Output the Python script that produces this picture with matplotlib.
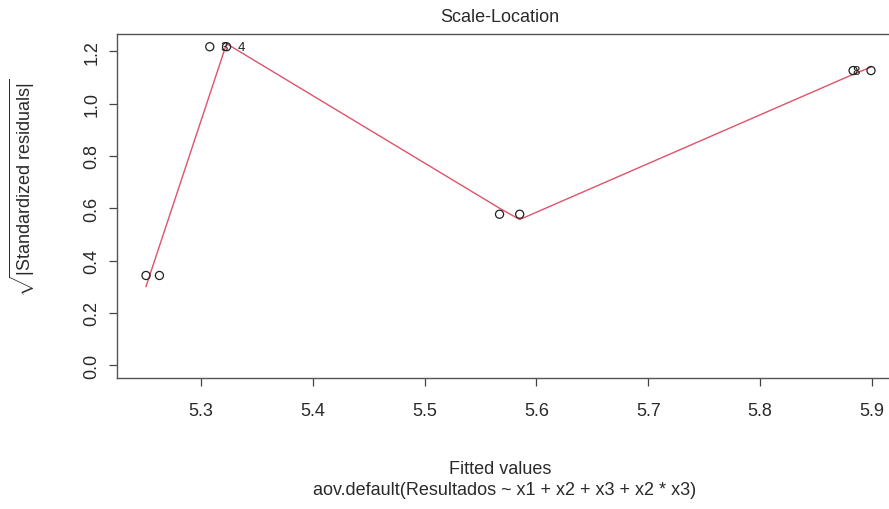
import numpy as np
import matplotlib
matplotlib.use("Agg")
import matplotlib.pyplot as plt

# Fitted values and sqrt(|standardized residuals|) of the aov model
fitted = [5.251, 5.263, 5.308, 5.323, 5.567, 5.585, 5.883, 5.899]
sqrt_std_res = [0.343, 0.343, 1.217, 1.217, 0.577, 0.577, 1.126, 1.126]
obs_ids = ["1", "2", "3", "4", "5", "6", "7", "8"]
labelled = ["3", "4", "8"]

x_ticks = [5.3, 5.4, 5.5, 5.6, 5.7, 5.8, 5.9]
y_ticks = [0.0, 0.2, 0.4, 0.6, 0.8, 1.0, 1.2]


def lowess(x, y, f=2 / 3, iters=3):
    """Port of the classic Cleveland lowess (as used by panel.smooth)."""
    x = np.asarray(x, float)
    y = np.asarray(y, float)
    n = len(x)
    ns = max(min(int(round(f * n)), n), 2)
    rw = np.ones(n)
    ys = np.zeros(n)
    for it in range(iters + 1):
        for i in range(n):
            d = np.abs(x - x[i])
            h = np.sort(d)[ns - 1]
            w = np.zeros(n)
            if h > 0:
                r = d / h
                inside = r <= 0.999
                w[inside] = (1 - r[inside] ** 3) ** 3
                w[r <= 0.001] = 1.0
            else:
                w[d == 0] = 1.0
            w *= rw
            if w.sum() <= 0:
                ys[i] = y[i]
                continue
            w = w / w.sum()
            xm = np.sum(w * x)
            c = np.sum(w * (x - xm) ** 2)
            if np.sqrt(c) > 0.001 * (x.max() - x.min()):
                b = w * (1 + (x[i] - xm) * (x - xm) / c)
            else:
                b = w
            ys[i] = np.sum(b * y)
        if it == iters:
            break
        res = np.abs(y - ys)
        cmad = 6 * np.median(res)
        if cmad < 1e-7 * np.mean(np.abs(y)):
            break
        u = res / cmad
        rw = np.where(u < 0.001, 1.0, np.where(u > 0.999, 0.0, (1 - u ** 2) ** 2))
    return ys


plt.rcParams["font.family"] = ["Liberation Sans", "DejaVu Sans"]
plt.rcParams["mathtext.fontset"] = "custom"
plt.rcParams["mathtext.rm"] = "Liberation Sans"
plt.rcParams["mathtext.it"] = "Liberation Sans"

TEXT = "#2a2a2a"
FS = 13

fig = plt.figure(figsize=(8.89, 5.10), dpi=100)
ax = fig.add_axes([117 / 889, 1 - 379 / 510, (900 - 117) / 889, (379 - 35) / 510])

ax.scatter(fitted, sqrt_std_res, s=34, facecolors="none", edgecolors="#222222",
           linewidths=0.9, zorder=3)
smooth = lowess(fitted, sqrt_std_res)
ax.plot(fitted, smooth, color="#DF536B", lw=1.0, zorder=2)

mid = (min(fitted) + max(fitted)) / 2
for xi, yi, lab in zip(fitted, sqrt_std_res, obs_ids):
    if lab in labelled:
        dx = 8 if xi < mid else -8
        ax.annotate(lab, (xi, yi), xytext=(dx, 0), textcoords="offset points",
                    ha="left" if dx > 0 else "right", va="center", fontsize=9.5,
                    color="#222222")

xr = max(fitted) - min(fitted)
ax.set_xlim(min(fitted) - 0.04 * xr, max(fitted) + 0.04 * xr)
yr = max(sqrt_std_res)
ax.set_ylim(-0.04 * yr, yr * 1.04)

ax.set_xticks(x_ticks)
ax.set_xticklabels([f"{v:.1f}" for v in x_ticks])
ax.set_yticks(y_ticks)
ax.set_yticklabels([f"{v:.1f}" for v in y_ticks], rotation=90, va="center")
ax.tick_params(direction="out", length=6, width=0.9, labelsize=FS,
               colors="#444444", labelcolor=TEXT, pad=11)
ax.tick_params(axis="y", pad=6)
for sp in ax.spines.values():
    sp.set_color("#555555")
    sp.set_linewidth(1.0)

fig.text(500 / 889, 1 - 18 / 510, "Scale-Location", ha="center", va="center",
         fontsize=FS, color=TEXT)
fig.text(500 / 889, 1 - 470 / 510, "Fitted values", ha="center", va="center",
         fontsize=FS, color=TEXT)
fig.text(505 / 889, 1 - 491 / 510, "aov.default(Resultados ~ x1 + x2 + x3 + x2 * x3)",
         ha="center", va="center", fontsize=FS, color=TEXT)
fig.text(22 / 889, 1 - 188 / 510, r"$\sqrt{|\mathrm{Standardized\ residuals}|}$",
         rotation=90, ha="center", va="center", fontsize=FS, color=TEXT)

fig.savefig("out.png", dpi=100)
